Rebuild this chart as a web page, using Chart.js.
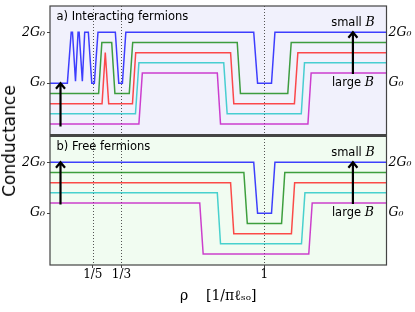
<!DOCTYPE html>
<html>
<head>
<meta charset="utf-8">
<script src="https://cdn.jsdelivr.net/npm/chart.js@4.4.1/dist/chart.umd.min.js"></script>
<style>
  body { margin: 0; background: #fff; width: 415px; height: 312px; position: relative; overflow: hidden; }
  canvas { position: absolute; left: 0; }
  #top { top: 0; }
  #bottom { top: 135px; }
  #ylab {
    position: absolute; left: 8.5px; top: 141px;
    transform: translate(-50%, -50%) rotate(-90deg);
    white-space: nowrap; font: 17px 'DejaVu Sans', sans-serif; color: #000;
  }
</style>
</head>
<body>
<canvas id="top" width="415" height="136"></canvas>
<canvas id="bottom" width="415" height="177"></canvas>
<div id="ylab">Conductance</div>
<script>
// x axis: rho in units of 1/(pi l_so)
const rhoMax = 1.5708;
const rhoTicks = [1 / 5, 1 / 3, 1];
const rhoTickLabels = ['1/5', '1/3', '1'];
const condTicks = [1, 2];
const condTickLabels = ['G₀', '2G₀'];

// a) interacting fermions, [rho, G/G0] (curves offset for clarity)
const interBlue = [[0, 1], [0.081, 1], [0.099, 2], [0.105, 2], [0.119, 1.04], [0.131, 2], [0.136, 2],
  [0.151, 1.04], [0.162, 2], [0.179, 2], [0.195, 1], [0.207, 1], [0.224, 2], [0.305, 2], [0.321, 1],
  [0.338, 1], [0.354, 2], [0.951, 2], [0.969, 1], [1.034, 1], [1.050, 2], [1.571, 2]];
const interGreen = [[0, 0.8], [0.227, 0.8], [0.242, 1.8], [0.288, 1.8], [0.303, 0.8], [0.370, 0.8],
  [0.386, 1.8], [0.874, 1.8], [0.889, 0.8], [1.110, 0.8], [1.126, 1.8], [1.571, 1.8]];
const interRed = [[0, 0.6], [0.243, 0.6], [0.258, 1.6], [0.274, 0.6], [0.385, 0.6], [0.400, 1.6],
  [0.843, 1.6], [0.858, 0.6], [1.141, 0.6], [1.157, 1.6], [1.571, 1.6]];
const interCyan = [[0, 0.4], [0.399, 0.4], [0.415, 1.4], [0.811, 1.4], [0.827, 0.4], [1.173, 0.4],
  [1.188, 1.4], [1.571, 1.4]];
const interMagenta = [[0, 0.2], [0.415, 0.2], [0.431, 1.2], [0.781, 1.2], [0.796, 0.2], [1.204, 0.2],
  [1.219, 1.2], [1.571, 1.2]];

// b) free fermions
const freeBlue = [[0, 2], [0.951, 2], [0.969, 1], [1.034, 1], [1.050, 2], [1.571, 2]];
const freeGreen = [[0, 1.8], [0.905, 1.8], [0.921, 0.8], [1.081, 0.8], [1.096, 1.8], [1.571, 1.8]];
const freeRed = [[0, 1.6], [0.843, 1.6], [0.858, 0.6], [1.127, 0.6], [1.142, 1.6], [1.571, 1.6]];
const freeCyan = [[0, 1.4], [0.781, 1.4], [0.796, 0.4], [1.174, 0.4], [1.190, 1.4], [1.571, 1.4]];
const freeMagenta = [[0, 1.2], [0.699, 1.2], [0.715, 0.2], [1.208, 0.2], [1.224, 1.2], [1.571, 1.2]];

const lineColors = ['rgba(0,0,255,0.75)', 'rgba(0,128,0,0.75)', 'rgba(255,0,0,0.7)',
  'rgba(0,191,191,0.7)', 'rgba(191,0,191,0.75)'];

// arrows: x, from, to (in data units)
const arrowsTop = [[0.049, 0.15, 1.0], [1.414, 1.18, 2.0]];
const arrowsBottom = [[0.049, 1.17, 2.0], [1.414, 1.18, 2.0]];

function drawArrow(ctx, x, y0, y1) {
  ctx.beginPath();
  ctx.moveTo(x, y0);
  ctx.lineTo(x, y1 + 1);
  ctx.moveTo(x - 4.5, y1 + 5.5);
  ctx.lineTo(x, y1);
  ctx.lineTo(x + 4.5, y1 + 5.5);
  ctx.stroke();
}

function drawB(ctx, pre, x, y) {
  ctx.font = "11.5px 'DejaVu Sans'";
  const w1 = ctx.measureText(pre).width;
  ctx.font = "italic 12.5px 'DejaVu Serif'";
  const w2 = ctx.measureText('B').width;
  let left = x - (w1 + w2) / 2;
  ctx.textAlign = 'left';
  ctx.textBaseline = 'middle';
  ctx.font = "11.5px 'DejaVu Sans'";
  ctx.fillText(pre, left, y);
  ctx.font = "italic 12.5px 'DejaVu Serif'";
  ctx.fillText('B', left + w1, y);
}

const panelPlugin = {
  id: 'panel',
  beforeDraw(chart, args, o) {
    const {ctx, chartArea: a} = chart;
    const xs = chart.scales.x;
    ctx.save();
    ctx.fillStyle = o.bg;
    ctx.fillRect(a.left, a.top, a.right - a.left, a.bottom - a.top);
    ctx.strokeStyle = '#555';
    ctx.lineWidth = 1;
    ctx.setLineDash([1, 2]);
    rhoTicks.forEach(v => {
      const px = Math.round(xs.getPixelForValue(v)) + 0.5;
      ctx.beginPath();
      ctx.moveTo(px, a.top);
      ctx.lineTo(px, a.bottom);
      ctx.stroke();
    });
    ctx.restore();
  },
  afterDatasetsDraw(chart, args, o) {
    const {ctx, chartArea: a} = chart;
    const xs = chart.scales.x, ys = chart.scales.y;
    ctx.save();
    // frame
    ctx.strokeStyle = '#444';
    ctx.lineWidth = 1.2;
    ctx.strokeRect(a.left, a.top, a.right - a.left, a.bottom - a.top);
    ctx.lineWidth = 2;
    ctx.beginPath();
    const dy = o.divider === 'bottom' ? a.bottom : a.top;
    ctx.moveTo(a.left, dy);
    ctx.lineTo(a.right, dy);
    ctx.stroke();
    // arrows
    ctx.strokeStyle = '#000';
    ctx.lineWidth = 2.2;
    o.arrows.forEach(([x, f, t]) => {
      drawArrow(ctx, xs.getPixelForValue(x), ys.getPixelForValue(f), ys.getPixelForValue(t));
    });
    // labels
    ctx.fillStyle = '#000';
    const rx = xs.getPixelForValue(o.arrows[1][0]);
    drawB(ctx, 'small ', rx, ys.getPixelForValue(2.18));
    drawB(ctx, 'large ', rx, ys.getPixelForValue(1.0));
    ctx.font = "11.5px 'DejaVu Sans'";
    ctx.textAlign = 'left';
    ctx.textBaseline = 'middle';
    ctx.fillText(o.title, a.left + 6.5, a.top + 11.5);
    ctx.restore();
  }
};

function noPad(s) {
  s.paddingTop = 0; s.paddingBottom = 0; s.paddingLeft = 0; s.paddingRight = 0;
}

function condAxis(side) {
  return {
    position: side, min: -0.015, max: 2.515,
    afterBuildTicks: s => { s.ticks = condTicks.map(v => ({value: v})); },
    afterFit: s => { s.width = side === 'left' ? 50 : 28.5; noPad(s); },
    grid: {drawOnChartArea: false, drawTicks: side === 'left', tickLength: 3, color: '#444'},
    border: {display: false},
    ticks: {
      callback: (v, i) => condTickLabels[i],
      font: {family: 'DejaVu Serif', size: 12.5, style: 'italic'},
      color: '#000', padding: 2
    }
  };
}

function makePanel(id, series, panel, showX) {
  const datasets = series.map((pts, i) => ({
    data: pts.map(([x, y]) => ({x, y})),
    borderColor: lineColors[i],
    borderWidth: 1.5,
    pointRadius: 0,
    tension: 0,
    fill: false
  }));
  const x = showX ? {
    type: 'linear', min: 0, max: rhoMax,
    afterBuildTicks: s => { s.ticks = rhoTicks.map(v => ({value: v})); },
    afterFit: s => { s.height = 47; noPad(s); },
    grid: {drawOnChartArea: false, tickLength: 3, color: '#444'},
    border: {display: false},
    ticks: {
      autoSkip: false, maxRotation: 0, padding: 0,
      callback: (v, i) => rhoTickLabels[i],
      font: {family: 'DejaVu Serif', size: 12}, color: '#000'
    },
    title: {
      display: true, text: 'ρ    [1/πℓₛₒ]',
      font: {family: 'DejaVu Serif', size: 14}, color: '#000',
      padding: {top: 0, bottom: 7}
    }
  } : {type: 'linear', min: 0, max: rhoMax, display: false};

  return new Chart(document.getElementById(id), {
    type: 'line',
    data: {datasets},
    options: {
      responsive: false,
      animation: false,
      layout: {padding: showX ? {top: 1, bottom: 0, left: 0, right: 0} : {top: 6, bottom: 1, left: 0, right: 0}},
      plugins: {legend: {display: false}, tooltip: {enabled: false}, panel},
      scales: {x, y: condAxis('left'), yR: condAxis('right')}
    },
    plugins: [panelPlugin]
  });
}

makePanel('top', [interBlue, interGreen, interRed, interCyan, interMagenta],
  {bg: '#f1f1fc', title: 'a) Interacting fermions', arrows: arrowsTop, divider: 'bottom'}, false);
makePanel('bottom', [freeBlue, freeGreen, freeRed, freeCyan, freeMagenta],
  {bg: '#f1fcf1', title: 'b) Free fermions', arrows: arrowsBottom, divider: 'top'}, true);
</script>
</body>
</html>
